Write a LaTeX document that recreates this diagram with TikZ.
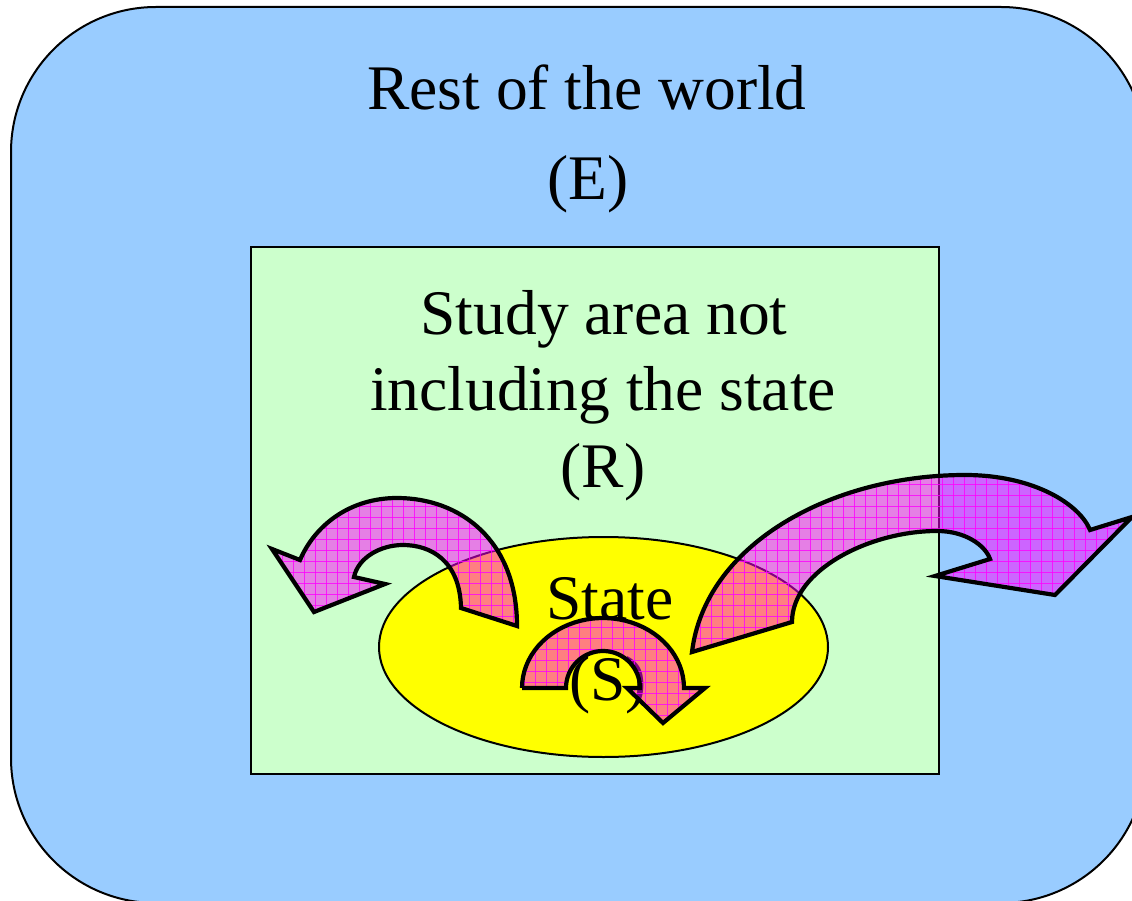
\documentclass[tikz,border=0pt]{standalone}
\usepackage{fontspec}
\setmainfont{Liberation Serif}
\usetikzlibrary{shapes.geometric}
\definecolor{worldblue}{HTML}{99CCFF}
\definecolor{areagreen}{HTML}{CCFFCC}
\definecolor{stateyellow}{HTML}{FFFF00}
\definecolor{arrowmag}{HTML}{FF00FF}
\tikzset{
  bigtext/.style={font=\fontsize{63.5}{76}\selectfont, inner sep=0pt, anchor=base},
  arrowfill/.style={fill=arrowmag, fill opacity=0.5},
  arrowline/.style={draw=black, line width=4.2pt, line join=miter},
  gridline/.style={draw=arrowmag, line width=0.8pt, opacity=0.8}
}
\def\arrowL{(517,626) -- (461,608) .. controls (460,560) and (430,545) .. (403,545) .. controls (380,545) and (358,558) .. (354,577) -- (385,584) -- (314,612) -- (272,549) -- (300,560) .. controls (315,525) and (350,498) .. (397,498) .. controls (460,498) and (517,540) .. (517,626) -- cycle}
\def\arrowR{(692,652) -- (792,622) .. controls (792,570) and (870,531) .. (937,531) .. controls (965,531) and (985,545) .. (990,559) -- (935,576) -- (1055,595) -- (1132,517) -- (1090,530) .. controls (1080,505) and (1035,475) .. (965,475) .. controls (830,475) and (705,545) .. (692,652) -- cycle}
\def\arrowS{(522,688) -- (566,688) -- plot[domain=180:360, samples=40] ({603+37*cos(\x)},{688+37*sin(\x)}) -- (627,688) -- (663,723) -- (705,688) -- (684,688) -- plot[domain=360:180, samples=40] ({603+81*cos(\x)},{688+70*sin(\x)}) -- cycle}
\newcommand{\gridarrow}[1]{%
  \fill[arrowfill] #1;
  \begin{scope}
    \clip #1;
    \foreach \i in {0,...,80} {\draw[gridline] (260+11*\i,440) -- (260+11*\i,760);}
    \foreach \j in {0,...,29} {\draw[gridline] (250,440+11*\j) -- (1140,440+11*\j);}
  \end{scope}
  \draw[arrowline] #1;
}
\begin{document}
\begin{tikzpicture}[x=1pt,y=-1pt]
\useasboundingbox (0,0) rectangle (1132,901);
% outer world
\draw[fill=worldblue, line width=2pt, rounded corners=145pt] (11,7) rectangle (1146,903);
% study area
\draw[fill=areagreen, line width=2.5pt] (251,247) rectangle (939,774);
% state
\node[ellipse, draw, line width=2pt, fill=stateyellow, minimum width=449pt, minimum height=220pt, inner sep=0pt] (state) at (603.5,647) {};
% texts
\node[bigtext] (t1) at (587,110) {Rest of the world};
\node[bigtext] (t2) at (588,200) {(E)};
\node[bigtext] (t3) at (604,334) {Study area not};
\node[bigtext] (t4) at (603,410) {including the state};
\node[bigtext] (t5) at (603,487) {(R)};
\node[bigtext] (t6) at (610,619) {State};
\node[bigtext] (t7) at (608,700) {(S)};
% arrows
\gridarrow{\arrowL}
\gridarrow{\arrowS}
\gridarrow{\arrowR}
\end{tikzpicture}
\end{document}
